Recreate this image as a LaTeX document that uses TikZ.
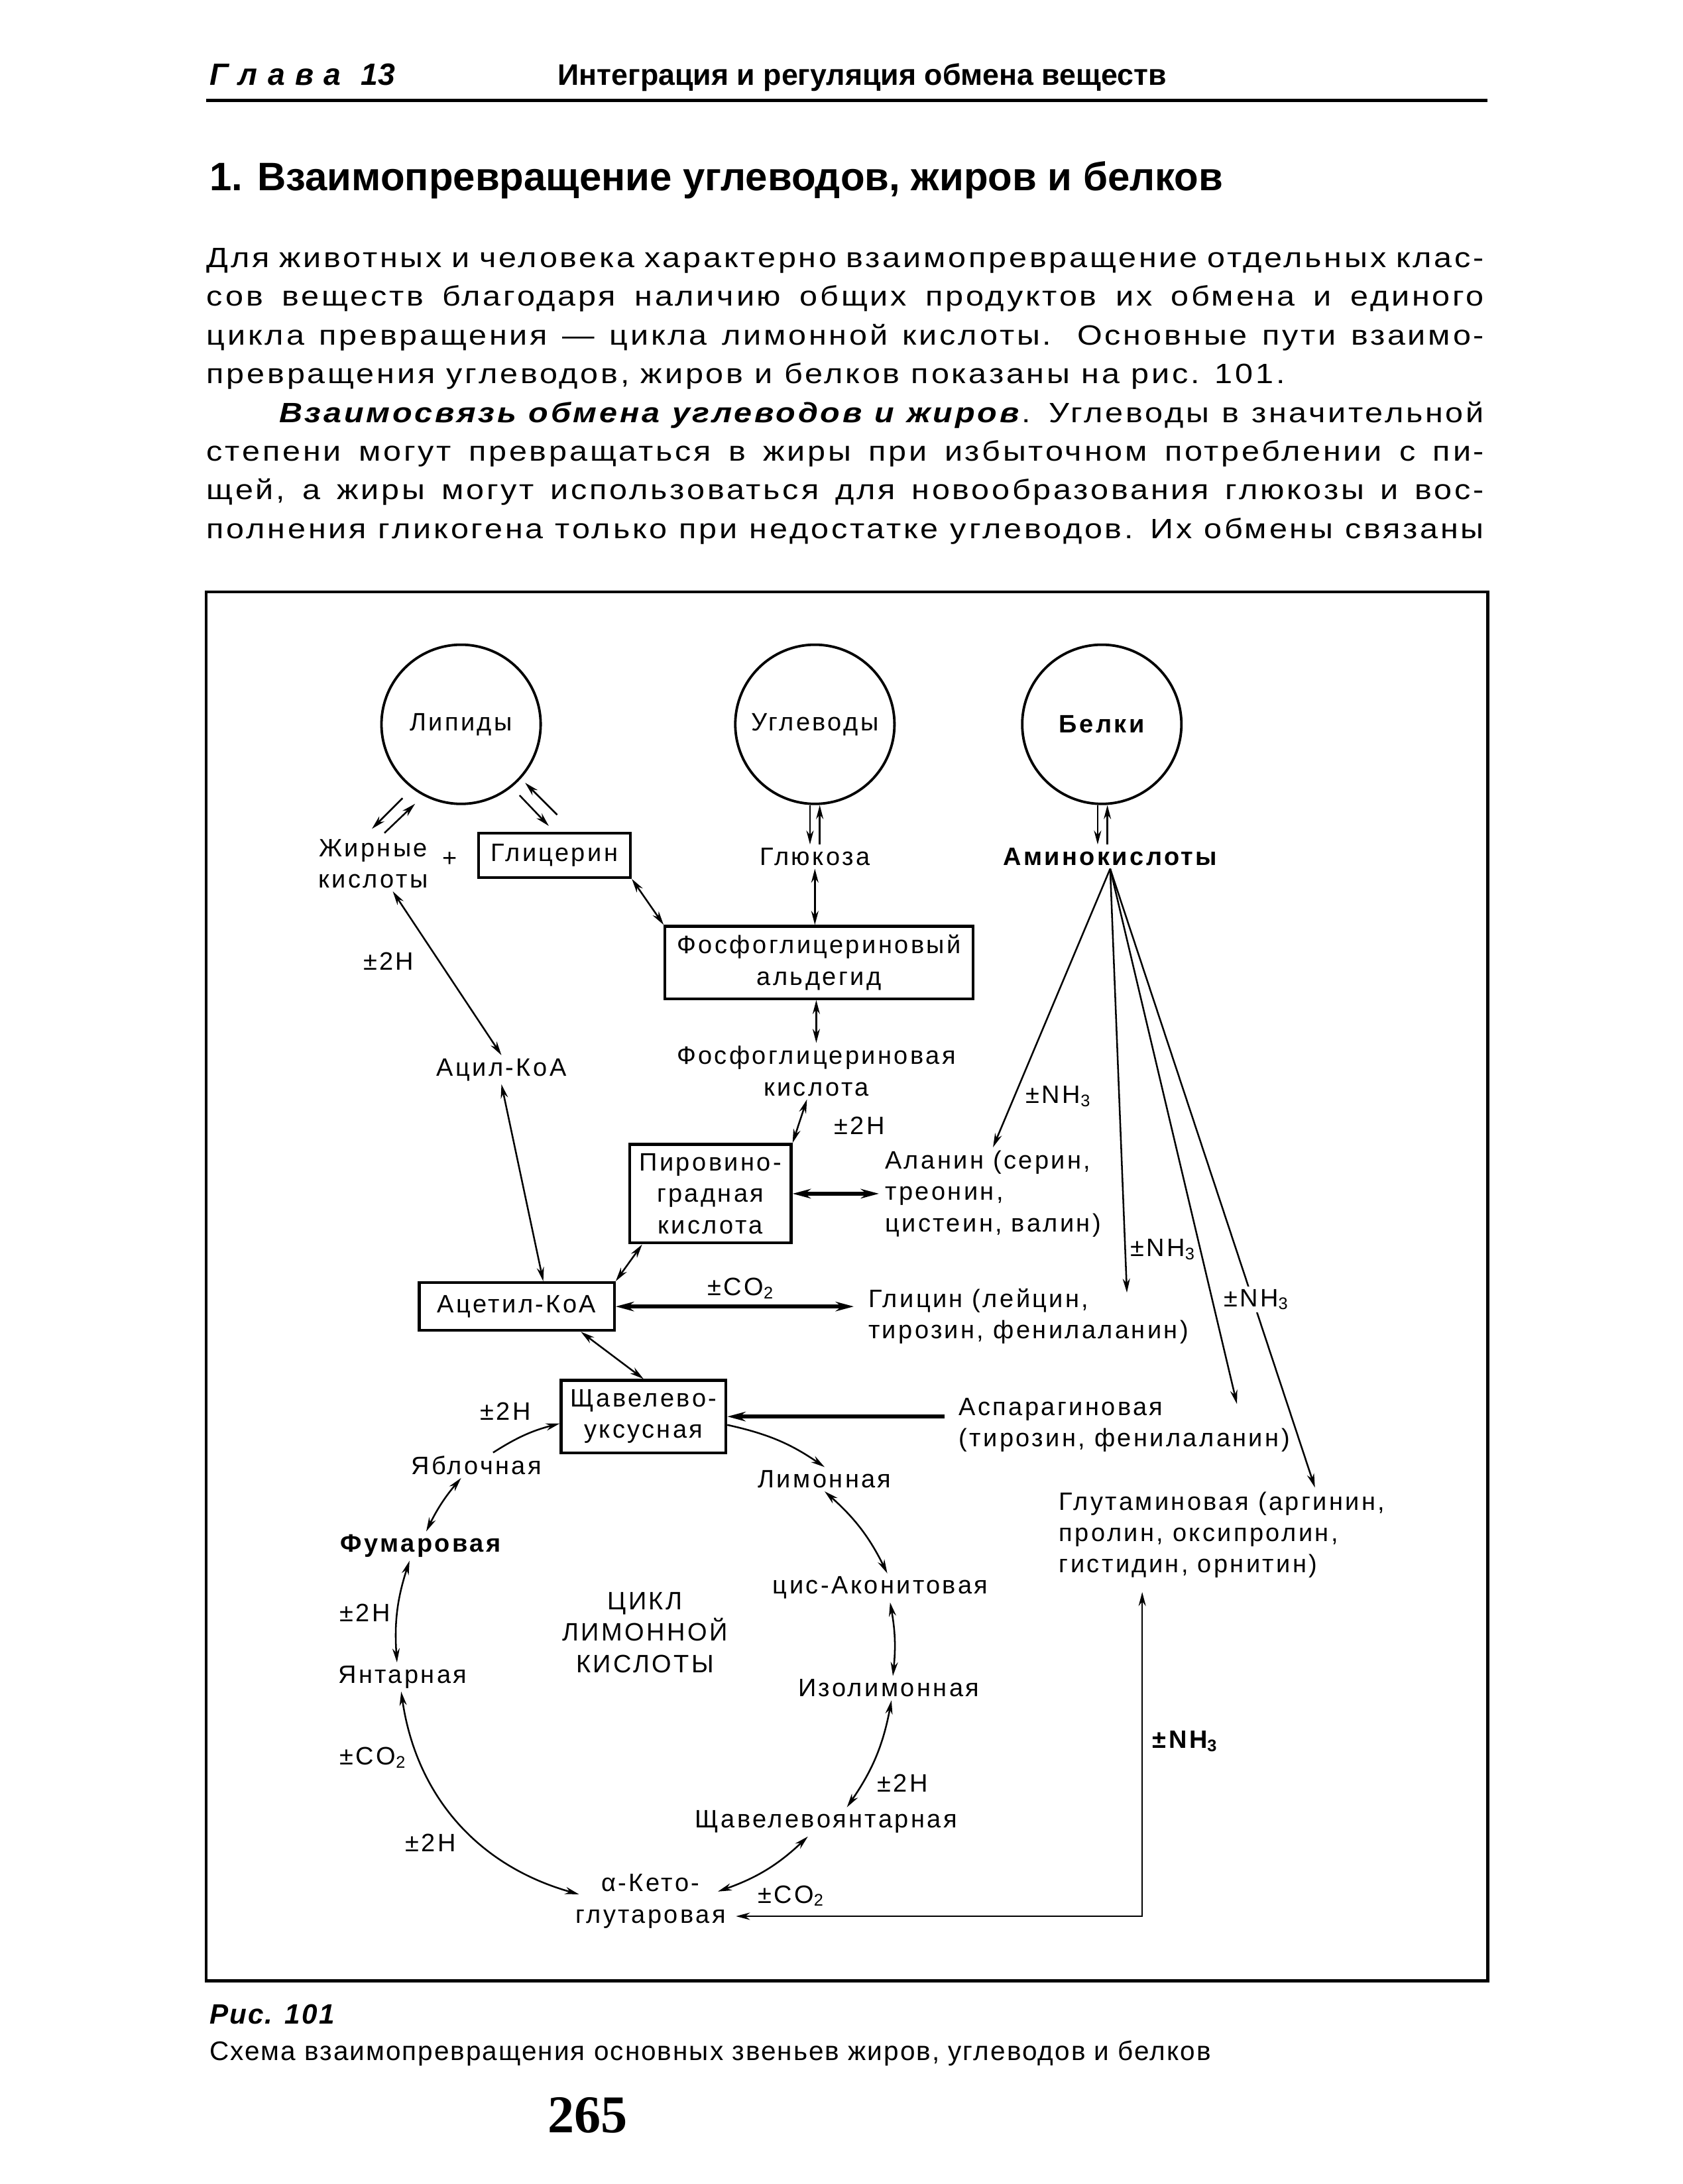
\documentclass[tikz,border=0pt]{standalone}
\usepackage{fontspec}
\setmainfont{Liberation Sans}
\newfontfamily\bodyfont[LetterSpace=9, FakeStretch=1.15]{Liberation Sans}
\newfontfamily\figfont[LetterSpace=9]{Liberation Sans}
\newfontfamily\capfont[LetterSpace=5]{Liberation Sans}
\newfontfamily\numfont{Liberation Serif}
\usetikzlibrary{arrows.meta}

\begin{document}
\begin{tikzpicture}[
    x=0.0175cm, y=-0.0175cm,
    every node/.style={inner sep=1pt},
    txt/.style={font=\figfont\fontsize{9pt}{11.2pt}\selectfont, align=center},
    bld/.style={font=\figfont\bfseries\fontsize{9pt}{11.2pt}\selectfont},
    pool/.style={circle, draw, line width=0.9pt, minimum size=2cm, inner sep=0pt, txt},
    box/.style={rectangle, draw, line width=1pt, inner sep=2pt, txt},
    bodyline/.style={anchor=base west, inner sep=0pt,
        font=\bodyfont\fontsize{10pt}{13.9pt}\selectfont},
    arr/.style={-{Stealth[length=5pt, width=2.6pt]}, line width=0.6pt},
    darr/.style={{Stealth[length=5pt, width=2.6pt]}-{Stealth[length=5pt, width=2.6pt]}, line width=0.6pt},
    thk/.style={{Stealth[length=6.5pt, width=3.4pt]}-{Stealth[length=6.5pt, width=3.4pt]}, line width=1.5pt},
    thka/.style={-{Stealth[length=6.5pt, width=3.4pt]}, line width=1.5pt},
]
\useasboundingbox (0,0) rectangle (1208,1568);

% Running head
\node[anchor=base west, font=\bfseries\itshape\fontsize{11pt}{12pt}\selectfont] (chap) at (148,61)
    {Г\hspace{0.33em}л\hspace{0.33em}а\hspace{0.33em}в\hspace{0.33em}а\hspace{0.65em}13};
\node[anchor=base west, font=\bfseries\fontsize{10.6pt}{12pt}\selectfont] (head) at (398,61)
    {Интеграция и регуляция обмена веществ};
\draw[line width=1.3pt] (148,72) -- (1068,72);

% Section title
\node[anchor=base west, font=\bfseries\fontsize{14.2pt}{16pt}\selectfont] (title) at (148,137)
    {1. Взаимопревращение углеводов, жиров и белков};

% Text
\node[bodyline] (l1) at (148,192)
    {\makebox[16.05cm][s]{Для животных и человека характерно взаимопревращение отдельных клас-}};
\node[bodyline] (l2) at (148,219.8)
    {\makebox[16.05cm][s]{сов веществ благодаря наличию общих продуктов их обмена и единого}};
\node[bodyline] (l3) at (148,247.6)
    {\makebox[16.05cm][s]{цикла превращения — цикла лимонной кислоты. Основные пути взаимо-}};
\node[bodyline] (l4) at (148,275.4)
    {превращения углеводов, жиров и белков показаны на рис. 101.};
\node[bodyline] (l5) at (200,303.2)
    {\makebox[15.14cm][s]{\textbf{\textit{Взаимосвязь обмена углеводов и жиров}}. Углеводы в значительной}};
\node[bodyline] (l6) at (148,331)
    {\makebox[16.05cm][s]{степени могут превращаться в жиры при избыточном потреблении с пи-}};
\node[bodyline] (l7) at (148,358.8)
    {\makebox[16.05cm][s]{щей, а жиры могут использоваться для новообразования глюкозы и вос-}};
\node[bodyline] (l8) at (148,386.6)
    {\makebox[16.05cm][s]{полнения гликогена только при недостатке углеводов. Их обмены связаны}};

% Frame
\draw[line width=1.1pt] (148,425) rectangle (1068,1422);

% Pools
\node[pool] (lip) at (331,520) {Липиды};
\node[pool] (ugl) at (585,520) {Углеводы};
\node[pool, bld] (bel) at (791,520) {Белки};

% Monomers
\node[txt] (fa) at (268,620) {Жирные\\кислоты};
\node[txt] (plus) at (323,617) {+};
\node[box, minimum width=1.91cm, minimum height=0.56cm] (gly) at (398,614) {Глицерин};
\node[txt] (glu) at (585,615) {Глюкоза};
\node[txt, bld] (amk) at (797,615) {Аминокислоты};

% Glycolysis side
\node[box, minimum width=3.87cm, minimum height=0.91cm] (pga) at (588,691)
    {Фосфоглицериновый\\альдегид};
\node[txt] (pgk) at (586,769) {Фосфоглицериновая\\кислота};
\node[box, minimum width=2.03cm, minimum height=1.24cm] (pyr) at (510,857)
    {Пировино-\\градная\\кислота};
\node[txt, anchor=west, align=left] (ala) at (633,857)
    {Аланин (серин,\\треонин,\\цистеин, валин)};
\node[txt] (acyl) at (360,768) {Ацил-КоА};
\node[box, minimum width=2.45cm, minimum height=0.6cm] (acet) at (371,938) {Ацетил-КоА};
\node[txt, anchor=west, align=left] (glc) at (621,945)
    {Глицин (лейцин,\\тирозин, фенилаланин)};
\node[box, minimum width=2.07cm, minimum height=0.91cm] (oaa) at (462,1017)
    {Щавелево-\\уксусная};
\node[txt, anchor=west, align=left] (asp) at (686,1023)
    {Аспарагиновая\\(тирозин, фенилаланин)};
\node[txt, anchor=west, align=left] (glut) at (758,1102)
    {Глутаминовая (аргинин,\\пролин, оксипролин,\\гистидин, орнитин)};

% Citric acid cycle
\node[txt] (mal) at (342,1052) {Яблочная};
\node[txt] (lim) at (592,1062) {Лимонная};
\node[txt, bld] (fum) at (302,1110) {Фумаровая};
\node[txt] (cis) at (632,1140) {цис-Аконитовая};
\node[txt] (cyc) at (463,1172) {ЦИКЛ\\ЛИМОННОЙ\\КИСЛОТЫ};
\node[txt] (suc) at (289,1204) {Янтарная};
\node[txt] (iso) at (638,1212) {Изолимонная};
\node[txt] (osu) at (593,1308) {Щавелевоянтарная};
\node[txt] (akg) at (467,1365) {α-Кето-\\глутаровая};

% Pools to monomers
\draw[arr] ([shift={(21,-27)}]fa.north) -- ([shift={(-1,-5)}]fa.north);
\draw[arr] ([shift={(8,-2)}]fa.north) -- ([shift={(30,-23)}]fa.north);
\draw[arr] ([shift={(-25,-26)}]gly.north) -- ([shift={(-4,-4)}]gly.north);
\draw[arr] ([shift={(2,-12)}]gly.north) -- ([shift={(-21,-35)}]gly.north);
\draw[arr] ([shift={(-3.5,0)}]ugl.south) -- ([shift={(-3.5,0)}]glu.north);
\draw[arr] ([shift={(3.5,0)}]glu.north) -- ([shift={(3.5,0)}]ugl.south);
\draw[arr] ([shift={(-3,0)}]bel.south) -- ([shift={(-9,0)}]amk.north);
\draw[arr] ([shift={(-2,0)}]amk.north) -- ([shift={(4,0)}]bel.south);

% Carbohydrate and lipid routes
\draw[darr] (glu) -- (glu |- pga.north);
\draw[darr] (gly.south east) -- (pga.north west);
\draw[darr] (pga.south -| pgk) -- (pgk);
\draw[darr] (pgk) -- (pyr.north east);
\draw[thk, shorten >=1pt] (pyr.east) -- (ala.west);
\draw[darr] (fa.-55) -- (acyl.north);
\draw[darr] (acyl.south) -- ([shift={(19,0)}]acet.north);
\draw[darr] ([shift={(10,0)}]pyr.south west) -- (acet.north east);
\draw[thk, shorten >=4pt] (acet.east) -- (acet.east -| glc.west);
\draw[darr] ([shift={(46,0)}]acet.south) -- (oaa.north);
\draw[thka, shorten <=4pt] (oaa.east -| asp.west) -- (oaa.east);

% Amino acid routes
\coordinate (endG) at (809,928);
\coordinate (endA) at (888,1008);
\coordinate (endU) at (944,1068);
\coordinate (glutIn) at (820,1143);
\draw[arr] (amk.south) -- (ala.north);
\draw[arr] (amk.south) -- (endG);
\draw[arr] (amk.south) -- (endA);
\draw[arr] (amk.south) -- (endU);
\draw[darr] (glutIn) |- ([shift={(5,-11)}]akg.south east);

% Cycle arcs
\draw[arr] ([shift={(12,0)}]mal.north) to[bend left=9] ([shift={(0,5)}]oaa.west);
\draw[arr] ([shift={(0,6)}]oaa.east) to[bend left=11] (lim.north);
\draw[darr] (lim.south) to[bend left=11] ([shift={(5,0)}]cis.north);
\draw[darr] ([shift={(7,0)}]cis.south) to[bend left=8] ([shift={(3,0)}]iso.north);
\draw[darr] ([shift={(2,0)}]iso.south) to[bend left=12] ([shift={(15,0)}]osu.north);
\draw[darr] ([shift={(-13,0)}]osu.south) to[bend left=12] ([shift={(-8,-7)}]akg.east);
\draw[darr] ([shift={(5,-5)}]akg.west) to[bend left=33] ([shift={(-1,0)}]suc.south);
\draw[darr] ([shift={(-4,0)}]suc.north) to[bend left=11] ([shift={(-8,0)}]fum.south);
\draw[darr] ([shift={(4,0)}]fum.north) to[bend left=7] ([shift={(-11,0)}]mal.south);

% Reaction labels
\node[txt] (hFa)  at (279,690)  {±2H};
\node[txt] (hPyr) at (617,808)  {±2H};
\node[txt] (nAla) at (760,787)  {±NH\textsubscript{3}};
\node[txt] (cAce) at (532,925)  {±CO\textsubscript{2}};
\node[txt] (nGlc) at (835,897)  {±NH\textsubscript{3}};
\node[txt, fill=white] (nAsp) at (902,933) {±NH\textsubscript{3}};
\node[txt] (hOaa) at (363,1013) {±2H};
\node[txt] (hFum) at (262,1158) {±2H};
\node[txt] (cSuc) at (268,1262) {±CO\textsubscript{2}};
\node[txt] (hSuc) at (309,1323) {±2H};
\node[txt] (hIso) at (648,1280) {±2H};
\node[txt] (cAkg) at (568,1361) {±CO\textsubscript{2}};
\node[txt, bld] (nGlu) at (851,1250) {±NH\textsubscript{3}};

% Caption and folio
\node[anchor=base west, font=\capfont\bfseries\itshape\fontsize{10pt}{11pt}\selectfont] (fig) at (148,1453)
    {Рис. 101};
\node[anchor=base west, font=\capfont\fontsize{9.6pt}{11pt}\selectfont] (cap) at (148,1479)
    {Схема взаимопревращения основных звеньев жиров, углеводов и белков};
\node[anchor=base, font=\numfont\bfseries\fontsize{19pt}{21pt}\selectfont] (folio) at (422,1531)
    {265};

\end{tikzpicture}
\end{document}
